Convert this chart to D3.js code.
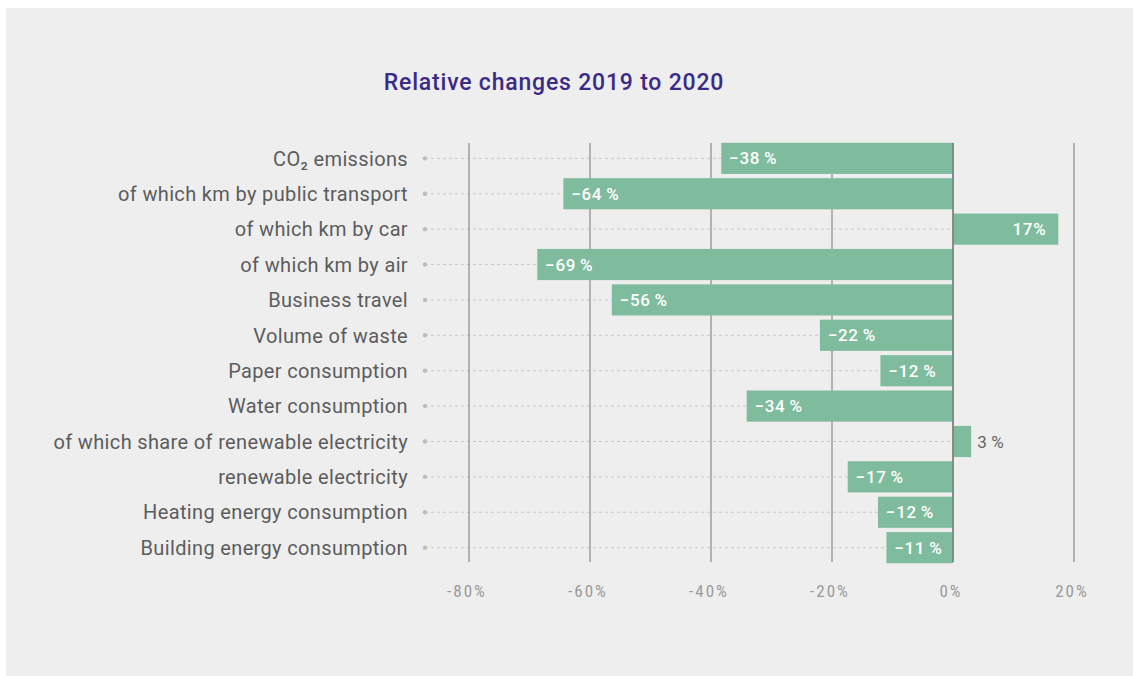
<!DOCTYPE html>
<html><head><meta charset="utf-8">
<script src="https://cdn.jsdelivr.net/npm/d3@7"></script>
<style>
body{margin:0;background:#fff;font-family:Roboto,"Noto Sans",sans-serif;}
</style></head>
<body><div id="chart"></div>
<script>
// categories and values
var categories=["CO\u2082 emissions","of which km by public transport","of which km by car","of which km by air",
  "Business travel","Volume of waste","Paper consumption","Water consumption",
  "of which share of renewable electricity","renewable electricity","Heating energy consumption","Building energy consumption"];
var values=[-38.3,-64.4,17.4,-68.7,-56.4,-22,-12,-34.1,3,-17.4,-12.4,-11];
var valueLabels=["\u221238\u2009%","\u221264\u2009%","17%","\u221269\u2009%","\u221256\u2009%","\u221222\u2009%","\u221212\u2009%","\u221234\u2009%","3\u2009%","\u221217\u2009%","\u221212\u2009%","\u221211\u2009%"];
var ticks=[-80,-60,-40,-20,0,20];

var W=1133,H=676;
var svg=d3.select("#chart").append("svg").attr("width",W).attr("height",H);
svg.append("rect").attr("x",6).attr("y",8).attr("width",W-6).attr("height",H-8).attr("fill","#eeeeee");

svg.append("text").attr("x",554).attr("y",90).attr("text-anchor","middle")
  .attr("fill","#3b2a86").style("font-size","23px").style("font-weight","500").style("letter-spacing","0.8px")
  .text("Relative changes 2019 to 2020");

var x=d3.scaleLinear().domain([-80,20]).range([469,1074]);
var y=d3.scaleBand().domain(categories).range([141,565]).paddingInner(0.12).paddingOuter(0.05);
var gTop=143,gBot=562;

// dotted guide lines from labels to zero
svg.selectAll("line.guide").data(categories).enter().append("line").attr("class","guide")
  .attr("x1",425).attr("x2",x(0))
  .attr("y1",function(d){return y(d)+y.bandwidth()/2;}).attr("y2",function(d){return y(d)+y.bandwidth()/2;})
  .attr("stroke","#c8c8c8").attr("stroke-width",1).attr("stroke-dasharray","3,3");
svg.selectAll("circle.dot").data(categories).enter().append("circle").attr("class","dot")
  .attr("cx",425).attr("cy",function(d){return y(d)+y.bandwidth()/2;}).attr("r",2.2).attr("fill","#bdbdbd");

// vertical gridlines
svg.selectAll("line.grid").data(ticks).enter().append("line").attr("class","grid")
  .attr("x1",function(d){return x(d);}).attr("x2",function(d){return x(d);})
  .attr("y1",gTop).attr("y2",gBot).attr("stroke","#777").attr("stroke-width",1);

// bars
svg.selectAll("rect.bar").data(values).enter().append("rect").attr("class","bar")
  .attr("x",function(d){return x(Math.min(0,d));})
  .attr("y",function(d,i){return y(categories[i]);})
  .attr("width",function(d){return Math.abs(x(d)-x(0));})
  .attr("height",y.bandwidth()).attr("fill","#7fbb9d");

// zero line above bars
svg.append("line").attr("x1",x(0)).attr("x2",x(0)).attr("y1",gTop).attr("y2",gBot).attr("stroke","#666").attr("stroke-width",1);

// value labels (small positive value sits outside the bar, in grey)
var outside=function(d){return d>0&&d<10;};
svg.selectAll("text.val").data(values).enter().append("text").attr("class","val")
  .attr("x",function(d){ if(d<0) return x(d)+8; if(d>10) return x(d)-12; return x(d)+6; })
  .attr("y",function(d,i){return y(categories[i])+y.bandwidth()/2;}).attr("dy","0.36em")
  .attr("text-anchor",function(d){return d>10?"end":"start";})
  .attr("fill",function(d){return outside(d)?"#666":"#fff";})
  .style("font-size","17px").style("font-weight",function(d){return outside(d)?"400":"500";})
  .style("letter-spacing","0.6px")
  .text(function(d,i){return valueLabels[i];});

// category labels
svg.selectAll("text.cat").data(categories).enter().append("text").attr("class","cat")
  .attr("x",408).attr("y",function(d){return y(d)+y.bandwidth()/2;}).attr("dy","0.36em")
  .attr("text-anchor","end").attr("fill","#5c5c5c").style("font-size","20px").style("letter-spacing","0.35px")
  .text(function(d){return d;});

// x tick labels
svg.selectAll("text.tick").data(ticks).enter().append("text").attr("class","tick")
  .attr("x",function(d){return x(d)-2;}).attr("y",597).attr("text-anchor","middle")
  .attr("fill","#9a9a9a").style("font-family","'Liberation Sans Narrow','Roboto Condensed',Roboto,sans-serif")
  .style("font-size","17px").style("letter-spacing","2px")
  .text(function(d){return (d<0?"-":"")+Math.abs(d)+"%";});
</script>
</body></html>
